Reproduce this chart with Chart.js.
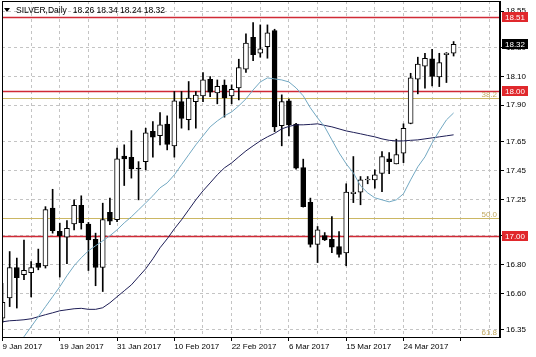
<!DOCTYPE html>
<html><head><meta charset="utf-8">
<script src="https://cdn.jsdelivr.net/npm/chart.js@4/dist/chart.umd.min.js"></script>
<style>html,body{margin:0;padding:0;background:#fff;overflow:hidden}</style>
</head><body>
<canvas id="c" width="536" height="357"></canvas>
<script>
// ---- data ----
const opens  = [16.43,16.57,16.78,16.73,16.745,16.81,16.79,17.19,17.03,16.99,17.08,17.21,17.08,16.975,16.78,17.16,17.11,17.55,17.54,17.465,17.51,17.72,17.69,17.77,17.62,17.925,17.80,17.925,17.965,18.08,17.985,18.04,17.965,18.02,18.15,18.37,18.26,18.305,18.415,17.76,17.93,17.77,17.47,17.23,16.94,17.00,16.975,16.925,16.88,17.29,17.30,17.384,17.385,17.43,17.53,17.495,17.57,17.775,18.08,18.17,18.22,18.095,18.25,18.26];
const highs  = [16.67,16.89,16.845,16.97,16.82,16.907,17.20,17.32,17.086,17.104,17.247,17.275,17.091,17.017,17.224,17.259,17.604,17.627,17.725,17.511,17.742,17.787,17.85,17.827,17.995,17.995,18.064,17.995,18.126,18.098,18.075,18.075,18.041,18.218,18.393,18.471,18.455,18.455,18.425,17.972,17.942,17.776,17.528,17.259,17.063,17.021,17.132,17.028,17.358,17.546,17.408,17.408,17.454,17.58,17.573,17.666,17.772,18.121,18.232,18.259,18.287,18.259,18.264,18.34];
const lows   = [16.40,16.51,16.50,16.695,16.576,16.764,16.776,17.017,16.714,16.806,17.04,17.045,16.759,16.654,16.614,17.075,17.097,17.346,17.397,17.247,17.454,17.542,17.627,17.592,17.542,17.742,17.73,17.742,17.925,17.96,17.91,17.818,17.91,17.937,18.126,18.208,18.232,18.225,17.718,17.62,17.689,17.459,17.197,16.921,16.814,16.966,16.883,16.852,16.792,17.228,17.213,17.358,17.328,17.304,17.427,17.495,17.504,17.772,17.979,18.018,18.034,18.029,18.057,18.24];
const closes = [16.54,16.78,16.71,16.76,16.78,16.78,17.18,17.035,17.00,17.05,17.21,17.09,16.97,16.78,17.11,17.10,17.53,17.53,17.46,17.46,17.71,17.68,17.765,17.63,17.93,17.81,17.95,17.97,18.075,17.99,18.03,17.95,18.01,18.16,18.33,18.25,18.29,18.40,17.75,17.925,17.765,17.465,17.20,16.94,17.04,16.97,16.92,16.87,17.30,17.30,17.385,17.386,17.42,17.545,17.51,17.56,17.74,18.09,18.185,18.225,18.10,18.195,18.26,18.32];
const maFast = [null,null,16.24,16.302,16.371,16.44,16.509,16.578,16.647,16.723,16.792,16.847,16.895,16.93,16.964,16.999,17.04,17.088,17.13,17.178,17.226,17.275,17.33,17.364,17.42,17.489,17.558,17.627,17.689,17.751,17.792,17.827,17.854,17.896,17.944,18.006,18.061,18.089,18.082,18.075,18.061,18.02,17.965,17.882,17.813,17.751,17.661,17.572,17.496,17.433,17.344,17.295,17.261,17.247,17.233,17.247,17.289,17.385,17.475,17.544,17.64,17.723,17.799,17.847];
const maSlow = [16.405,16.412,16.415,16.419,16.426,16.44,16.454,16.467,16.481,16.488,16.495,16.498,16.491,16.491,16.502,16.536,16.578,16.619,16.66,16.716,16.771,16.84,16.916,16.978,17.047,17.109,17.178,17.247,17.309,17.364,17.42,17.468,17.502,17.544,17.585,17.62,17.654,17.682,17.706,17.737,17.754,17.765,17.765,17.768,17.772,17.761,17.751,17.737,17.723,17.713,17.703,17.692,17.682,17.668,17.658,17.654,17.654,17.658,17.661,17.668,17.675,17.682,17.689,17.696];
const dateLabels = ['9 Jan 2017','19 Jan 2017','31 Jan 2017','10 Feb 2017','22 Feb 2017','6 Mar 2017','15 Mar 2017','24 Mar 2017'];
const yTicks = [16.35,16.60,16.80,17.00,17.25,17.45,17.65,17.90,18.10,18.30,18.55];
const redLevels = [18.51,18.00,17.00];
const fibLevels = [17.949,17.123,16.297];
const fibNames = ['38.2','50.0','61.8'];
const lastPrice = 18.32;
const symbolText = 'SILVER,Daily';
const ohlcText = '18.26 18.34 18.24 18.32';

// ---- build datasets ----
const bodyPts = opens.map((o,i)=>({x:i, y:[o, closes[i]]}));
const wickPts = lows.map((l,i)=>({x:i, y:[l, highs[i]]}));
const bodyColors = opens.map((o,i)=> closes[i] >= o ? '#ffffff' : '#000000');
const fastPts = maFast.map((v,i)=>({x:i, y:v}));
const slowPts = maSlow.map((v,i)=>({x:i, y:v}));

const FONT = 'Liberation Sans, Arial, sans-serif';

const overlay = {
  id:'overlay',
  beforeDatasetsDraw(chart){
    const ctx = chart.ctx, ys = chart.scales.y, a = chart.chartArea;
    ctx.save();
    ctx.setLineDash([]);
    ctx.beginPath(); ctx.rect(a.left, a.top, a.right-a.left, a.bottom-a.top); ctx.clip();
    fibLevels.forEach((v)=>{
      const y = Math.round(ys.getPixelForValue(v)) + 0.5;
      ctx.lineWidth = 1;
      ctx.strokeStyle = '#cbb763';
      ctx.beginPath(); ctx.moveTo(a.left, y); ctx.lineTo(a.right, y); ctx.stroke();
    });
    redLevels.forEach((v)=>{
      const y = Math.round(ys.getPixelForValue(v)) + 0.5;
      ctx.lineWidth = 1.4;
      ctx.strokeStyle = '#d02a36';
      ctx.beginPath(); ctx.moveTo(a.left, y); ctx.lineTo(a.right, y); ctx.stroke();
    });
    ctx.font = '8px ' + FONT;
    ctx.fillStyle = '#c2a960';
    ctx.textAlign = 'right'; ctx.textBaseline = 'alphabetic';
    fibLevels.forEach((v,i)=>{
      const y = ys.getPixelForValue(v);
      ctx.fillText(fibNames[i], a.right - 3, Math.min(y - 1, a.bottom - 2));
    });
    ctx.restore();
  },
  afterDraw(chart){
    const ctx = chart.ctx, ys = chart.scales.y, a = chart.chartArea;
    ctx.save();
    ctx.setLineDash([]);
    // frame
    ctx.strokeStyle = '#000'; ctx.lineWidth = 1;
    ctx.strokeRect(a.left + 0.5, a.top + 0.5, a.right - a.left - 1, a.bottom - a.top);
    // price boxes
    ctx.font = '8px ' + FONT;
    ctx.textAlign = 'left'; ctx.textBaseline = 'middle';
    const box = (v, col) => {
      const y = Math.round(ys.getPixelForValue(v));
      ctx.fillStyle = col;
      ctx.fillRect(a.right + 2, y - 5, 26, 10);
      ctx.fillStyle = '#fff';
      ctx.fillText(v.toFixed(2), a.right + 5, y + 0.5);
    };
    redLevels.forEach(v => box(v, '#e0282c'));
    box(lastPrice, '#000');
    // title
    ctx.fillStyle = '#000';
    ctx.beginPath(); ctx.moveTo(4, 8); ctx.lineTo(10, 8); ctx.lineTo(7, 12); ctx.closePath(); ctx.fill();
    ctx.font = '8.5px ' + FONT;
    ctx.textBaseline = 'middle';
    ctx.fillText(symbolText, 16, 10.5);
    ctx.fillText(ohlcText, 16 + ctx.measureText(symbolText).width + 6, 10.5);
    ctx.restore();
  }
};

new Chart(document.getElementById('c'), {
  type: 'bar',
  data: {
    datasets: [
      {type:'line', data: fastPts, borderColor:'#72a8c2', borderWidth:1, pointRadius:0, tension:0, order:-2},
      {type:'line', data: slowPts, borderColor:'#1e1e56', borderWidth:1, pointRadius:0, tension:0, order:-1},
      {type:'bar', data: bodyPts, backgroundColor: bodyColors, borderColor:'#000', borderWidth:1, borderSkipped:false, barThickness:5, grouped:false, minBarLength:1, order:1},
      {type:'bar', data: wickPts, backgroundColor:'#000', borderWidth:0, barThickness:1, grouped:false, order:2}
    ]
  },
  options: {
    responsive:false, animation:false,
    layout:{padding:{left:2, top:1, right:0, bottom:0}},
    plugins:{legend:{display:false}, tooltip:{enabled:false}},
    scales:{
      x:{
        type:'linear', min:-0.07, max:69.48, offset:false,
        afterFit(s){ s.height = 20; s.paddingLeft = 0; s.paddingRight = 0; },
        afterBuildTicks(s){ const t=[]; for(let v=0; v<=68; v+=4) t.push({value:v}); s.ticks = t; },
        ticks:{
          autoSkip:false, maxRotation:0, minRotation:0, align:'start', padding:1,
          color:'#000', font:{family:FONT, size:8},
          callback(v){ return (v % 8 === 0 && dateLabels[v/8]) ? dateLabels[v/8] : ''; }
        },
        grid:{ offset:false, color:'#c4c4c4', lineWidth:1, tickLength:4,
          tickColor(ctx){ return (ctx.tick && ctx.tick.value % 8 === 0) ? '#000' : 'rgba(0,0,0,0)'; } },
        border:{ display:true, color:'#000', width:1, dash:[3,3] }
      },
      y:{
        type:'linear', position:'right', min:16.30, max:18.62,
        afterFit(s){ s.width = 36; s.paddingTop = 0; s.paddingBottom = 0; },
        afterBuildTicks(s){ s.ticks = yTicks.map(v=>({value:v})); },
        ticks:{ padding:2, color:'#000', font:{family:FONT, size:8}, callback(v){ return Number(v).toFixed(2); } },
        grid:{ color:'#c4c4c4', lineWidth:1, tickLength:4, tickColor:'#000' },
        border:{ display:true, color:'#000', width:1, dash:[3,3] }
      }
    }
  },
  plugins:[overlay]
});
</script>
</body></html>
